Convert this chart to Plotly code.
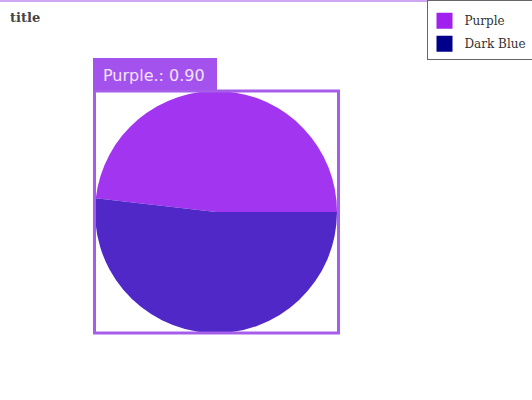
import plotly.graph_objects as go

categories = ["Purple", "Dark Blue"]
values = [48.2, 51.8]
slice_colors = ["#A235F0", "#5128C8"]
legend_colors = ["#A020F0", "#00008B"]
box_label = "Purple.: 0.90"

W, H = 532, 400

def px(x):
    return x / W

def py(y):
    return 1 - y / H

# first slice ends at 3 o'clock, drawn clockwise
start_rotation = 90 - 360 * values[0] / sum(values)

fig = go.Figure()
fig.add_trace(go.Pie(
    labels=categories, values=values, sort=False,
    direction="clockwise", rotation=start_rotation,
    marker=dict(colors=slice_colors, line=dict(width=0)),
    textinfo="none", hoverinfo="label+value", showlegend=False,
    domain=dict(x=[px(95), px(337)], y=[py(333), py(91)]),
))
for name, col in zip(categories, legend_colors):
    fig.add_trace(go.Scatter(
        x=[None], y=[None], mode="markers", name=name, legendgroup=name,
        marker=dict(symbol="square", size=16, color=col),
    ))

fig.add_shape(type="rect", xref="paper", yref="paper",
              x0=px(94.5), x1=px(338.5), y0=py(333), y1=py(91),
              line=dict(color="#A65EEA", width=3), fillcolor="rgba(0,0,0,0)")
fig.add_shape(type="rect", xref="paper", yref="paper",
              x0=px(93), x1=px(217), y0=py(90), y1=py(58),
              line=dict(width=0), fillcolor="#A452EE")
fig.add_shape(type="line", xref="paper", yref="paper",
              x0=0, x1=1, y0=py(1), y1=py(1),
              line=dict(color="#CDA6F4", width=2))
fig.add_annotation(text=box_label, xref="paper", yref="paper",
                   x=px(154), y=py(75), xanchor="center", yanchor="middle",
                   showarrow=False,
                   font=dict(family="DejaVu Sans", size=16, color="#F2E2FF"))

fig.update_layout(
    width=W, height=H,
    margin=dict(l=0, r=0, t=0, b=0, autoexpand=False),
    paper_bgcolor="white", plot_bgcolor="white",
    title=dict(text="<b>title</b>", x=px(10), y=py(17), xanchor="left", yanchor="middle",
               font=dict(family="DejaVu Serif", size=13, color="#444444")),
    xaxis=dict(visible=False), yaxis=dict(visible=False),
    legend=dict(x=px(426.5), y=py(0), xanchor="left", yanchor="top",
                bordercolor="#666666", borderwidth=1, bgcolor="white",
                font=dict(family="DejaVu Serif", size=12, color="#333333"),
                title=dict(text="&nbsp;", font=dict(size=4)),
                itemwidth=30, tracegroupgap=4, indentation=-3,
                entrywidth=80, entrywidthmode="pixels"),
)
fig.write_html("out.html", config={"displayModeBar": False},
               post_script="document.body.style.margin='0px';")
